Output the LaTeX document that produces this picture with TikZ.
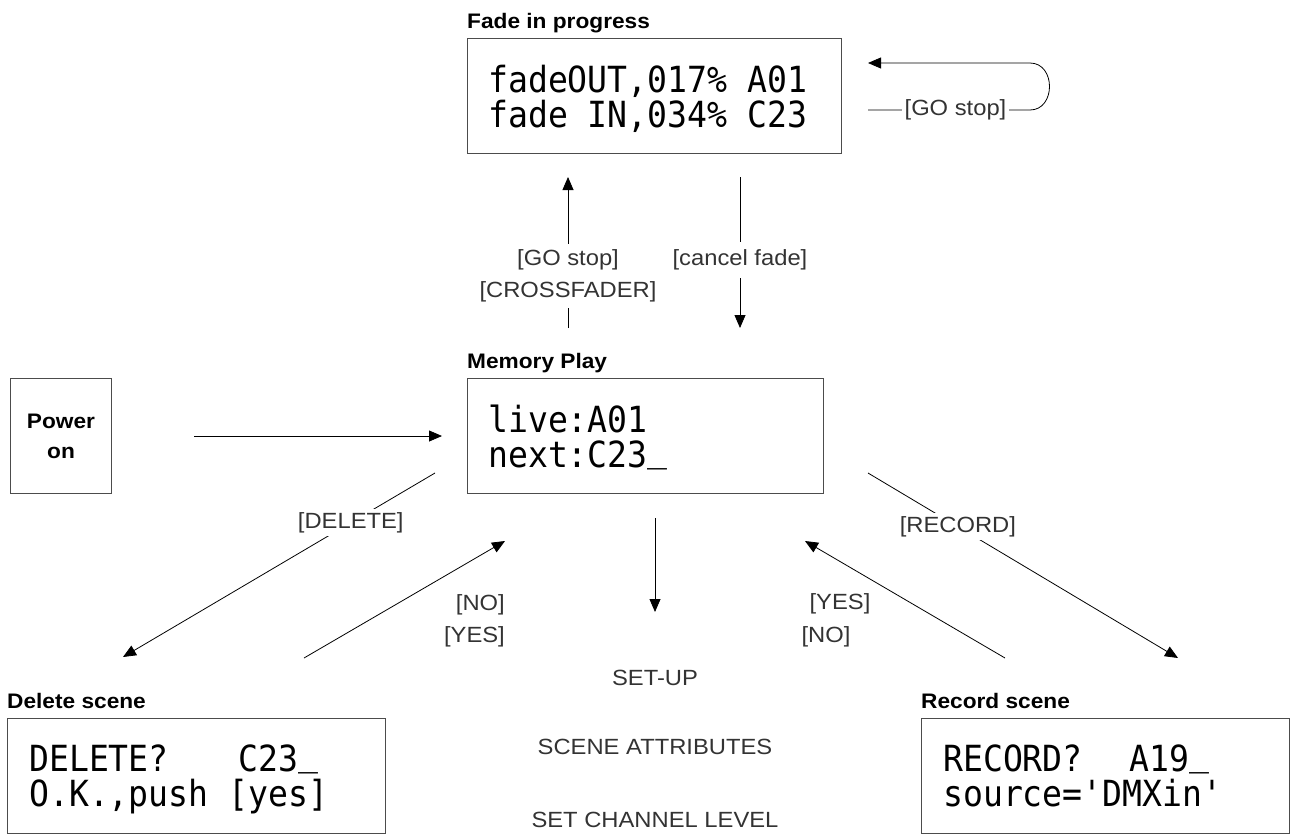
\documentclass[tikz,border=0pt]{standalone}
\usepackage{fontspec}
\usetikzlibrary{arrows.meta}
\newfontfamily\sansfam[FakeStretch=1.08]{Liberation Sans}
\newfontfamily\lcdfam[FakeStretch=0.92,Ligatures=TeXOff]{DejaVu Sans Mono}
\newcommand{\headfont}{\sansfam\bfseries\fontsize{21}{30}\selectfont}
\newcommand{\labfont}{\sansfam\fontsize{22}{32}\selectfont}
\newcommand{\lcdfont}{\lcdfam\fontsize{36}{35}\selectfont}
\newcommand{\lcdus}{\raisebox{6pt}{\_}}
\tikzset{
	lcdbox/.style={draw=black!70, line width=1pt, anchor=north west, inner sep=0pt},
	lcdtext/.style={anchor=north west, inner sep=0pt, align=left, font=\lcdfont},
	ttl/.style={anchor=base west, inner sep=0pt, font=\headfont},
	lbl/.style={font=\labfont, text=black!80, fill=white, inner sep=3pt},
	menu/.style={font=\labfont, text=black!80, inner sep=0pt},
	arr/.style={-{Triangle[length=13pt,width=11pt]}, line width=0.8pt},
}
\begin{document}
\begin{tikzpicture}[x=1pt, y=-1pt]
		\useasboundingbox (0,0) rectangle (1298,835);
		
		%display boxes
		\node[lcdbox, minimum width=374pt, minimum height=115pt] (fade) at (467,38) {};
		\node[lcdbox, minimum width=356pt, minimum height=115pt] (mem) at (467,378) {};
		\node[lcdbox, minimum width=378pt, minimum height=115pt] (del) at (7,718) {};
		\node[lcdbox, minimum width=368pt, minimum height=115pt] (rec) at (921,718) {};
		\node[lcdbox, minimum width=101pt, minimum height=115pt, align=center, font=\headfont] (pwr) at (10,378) {Power\\on};
		
		\node[ttl] (fadettl) at (467,28) {Fade in progress};
		\node[ttl] (memttl) at (467,368) {Memory Play};
		\node[ttl] (delttl) at (7,708) {Delete scene};
		\node[ttl] (recttl) at (921,708) {Record scene};
		
		\node[lcdtext] (fadetxt) at ([shift={(21,27)}]fade.north west) {fadeOUT,017\% A01\\fade IN,034\% C23};
		\node[lcdtext] (memtxt) at ([shift={(21,27)}]mem.north west) {live:A01\\next:C23\lcdus};
		\node[lcdtext] (deltxt) at ([shift={(22,27)}]del.north west) {DELETE?\hspace{70pt}C23\lcdus\\O.K.,push [yes]};
		\node[lcdtext] (rectxt) at ([shift={(22,27)}]rec.north west) {RECORD?\hspace{47pt}A19\lcdus\\source='DMXin'};
		
		%power on
		\draw[arr, shorten <=82pt, shorten >=25pt] (pwr) -- (mem);
		
		%memory <-> fade
		\coordinate (goa) at (568,328);
		\coordinate (gob) at (568,177);
		\draw[arr] (goa) -- node[lbl, pos=0.344, align=center, inner ysep=6pt] (golab) {[GO stop]\\{[CROSSFADER]}} (gob);
		\coordinate (cfa) at (740,177);
		\coordinate (cfb) at (740,328);
		\draw[arr] (cfa) -- node[lbl, pos=0.55, inner ysep=8pt] (cflab) {[cancel fade]} (cfb);
		
		%fade loop
		\coordinate (lpa) at (868,110);
		\coordinate (lpb) at (1030,110);
		\coordinate (lpc) at (1030,63);
		\coordinate (lpd) at (868,63);
		\draw[arr] (lpa) -- node[lbl, pos=0.54] (lplab) {[GO stop]} (lpb) .. controls (1056,110) and (1056,63) .. (lpc) -- (lpd);
		
		%delete
		\coordinate (dela) at (435,473);
		\coordinate (delb) at (123,657);
		\draw[arr] (dela) -- node[lbl, pos=0.27] (dellab) {[DELETE]} (delb);
		\coordinate (nla) at (304,658);
		\coordinate (nlb) at (505,541);
		\draw[arr] (nla) -- (nlb);
		\node[menu, align=right, anchor=east] (nllab) at (505,621) {[NO]\\{[YES]}};
		
		%record
		\coordinate (reca) at (868,473);
		\coordinate (recb) at (1178,658);
		\draw[arr] (reca) -- node[lbl, pos=0.29] (reclab) {[RECORD]} (recb);
		\coordinate (nra) at (1005,658);
		\coordinate (nrb) at (805,541);
		\draw[arr] (nra) -- (nrb);
		\node[menu] (yesr) at (840,604) {[YES]};
		\node[menu] (nor) at (826,637) {[NO]};
		
		%set-up menu
		\coordinate (sua) at (655,518);
		\coordinate (sub) at (655,612);
		\draw[arr] (sua) -- (sub);
		\foreach \txt/\y in {SET-UP/678, SCENE ATTRIBUTES/747, SET CHANNEL LEVEL/820}{
			\node[menu] (set\y) at (655,\y) {\txt};
		}
\end{tikzpicture}
\end{document}
